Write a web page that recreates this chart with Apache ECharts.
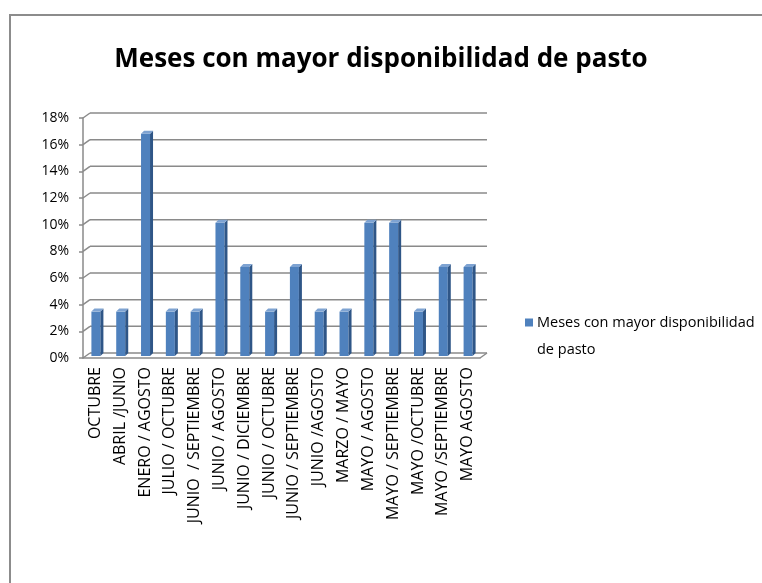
<!DOCTYPE html>
<html>
<head>
<meta charset="utf-8">
<script src="https://cdn.jsdelivr.net/npm/echarts@6/dist/echarts.min.js"></script>
<style>html,body{margin:0;padding:0;background:#fff;}#c{width:762px;height:583px;}</style>
</head>
<body>
<div id="c"></div>
<script>
const seriesName = 'Meses con mayor disponibilidad de pasto';
const categories = ['OCTUBRE','ABRIL /JUNIO','ENERO / AGOSTO','JULIO / OCTUBRE','JUNIO  / SEPTIEMBRE','JUNIO / AGOSTO','JUNIO / DICIEMBRE','JUNIO / OCTUBRE','JUNIO / SEPTIEMBRE','JUNIO /AGOSTO','MARZO / MAYO','MAYO / AGOSTO','MAYO / SEPTIEMBRE','MAYO /OCTUBRE','MAYO /SEPTIEMBRE','MAYO AGOSTO'];
const values = [3.33,3.33,16.67,3.33,3.33,10,6.67,3.33,6.67,3.33,3.33,10,10,3.33,6.67,6.67];
const yTicks = [0,2,4,6,8,10,12,14,16,18];

const FONT = 'Open Sans';
const chart = echarts.init(document.getElementById('c'));

function renderGrid(params, api) {
  const cs = params.coordSys;
  const v = api.value(1);
  const y = api.coord([0, v])[1];
  const style = {stroke: '#8a8a8a', lineWidth: 1.5};
  const children = [
    {type: 'line', shape: {x1: cs.x, y1: y, x2: cs.x + 7, y2: y - 5}, style: style},
    {type: 'line', shape: {x1: cs.x + 7, y1: y - 5, x2: cs.x + cs.width + 7, y2: y - 5}, style: style}
  ];
  if (v === 0) {
    children.push({type: 'line', shape: {x1: cs.x + cs.width, y1: y, x2: cs.x + cs.width + 7, y2: y - 5}, style: style});
  }
  return {type: 'group', children: children};
}

function renderBar(params, api) {
  const c = api.coord([api.value(0), api.value(1)]);
  const b = api.coord([api.value(0), 0]);
  const x = c[0], top = c[1] - 2, bot = b[1] - 2;
  const l = x - 4, r = x + 5, d = 3;
  return {type: 'group', children: [
    {type: 'rect', shape: {x: l, y: top, width: r - l, height: bot - top}, style: {fill: '#4F81BD'}},
    {type: 'polygon', shape: {points: [[r, top], [r + d, top - d], [r + d, bot - d], [r, bot]]}, style: {fill: '#2F5687'}},
    {type: 'polygon', shape: {points: [[l, top], [l + d, top - d], [r + d, top - d], [r, top]]}, style: {fill: '#7EA3D2'}}
  ]};
}

chart.setOption({
  backgroundColor: '#fff',
  animation: false,
  title: {
    text: 'Meses con mayor disponibilidad de pasto',
    left: 'center', top: 42,
    textStyle: {fontFamily: FONT, fontSize: 26, fontWeight: 'bold', color: '#000'}
  },
  legend: {
    data: [seriesName],
    left: 515, top: 310,
    icon: 'none', itemWidth: 0, itemHeight: 0,
    formatter: function () { return '{sq|}{t|Meses con mayor disponibilidad}\n{sp|}{t|de pasto}'; },
    textStyle: {
      fontFamily: FONT, fontSize: 14.5, color: '#000',
      rich: {
        sq: {width: 8, height: 8, backgroundColor: '#4F81BD'},
        sp: {width: 8, height: 8},
        t: {fontFamily: FONT, fontSize: 14.5, color: '#000', lineHeight: 27, padding: [0, 0, 0, 4]}
      }
    }
  },
  grid: {left: 83, right: 282, top: 118, bottom: 225},
  xAxis: {
    type: 'category',
    data: categories,
    axisLine: {lineStyle: {color: '#8a8a8a', width: 1.5}},
    axisTick: {length: 5, lineStyle: {color: '#8a8a8a', width: 1.5}},
    axisLabel: {rotate: 90, interval: 0, fontFamily: FONT, fontSize: 16, color: '#000', margin: 9}
  },
  yAxis: {
    type: 'value', min: 0, max: 18, interval: 2,
    axisLine: {show: true, lineStyle: {color: '#8a8a8a', width: 1.5}},
    axisTick: {show: true, length: 4, lineStyle: {color: '#8a8a8a', width: 1.5}},
    splitLine: {show: false},
    axisLabel: {formatter: '{value}%', fontFamily: FONT, fontSize: 14, color: '#000', margin: 14}
  },
  graphic: [{
    type: 'rect', shape: {x: 10, y: 15, width: 900, height: 800},
    style: {fill: 'none', stroke: '#8c8c8c', lineWidth: 2}, silent: true
  }],
  series: [
    {type: 'custom', name: 'grid3d', renderItem: renderGrid, data: yTicks.map(v => [0, v]), z: 1, silent: true},
    {type: 'custom', name: seriesName, renderItem: renderBar, data: values.map((v, i) => [i, v]), z: 3, itemStyle: {color: '#4F81BD'}}
  ]
});
</script>
</body>
</html>
